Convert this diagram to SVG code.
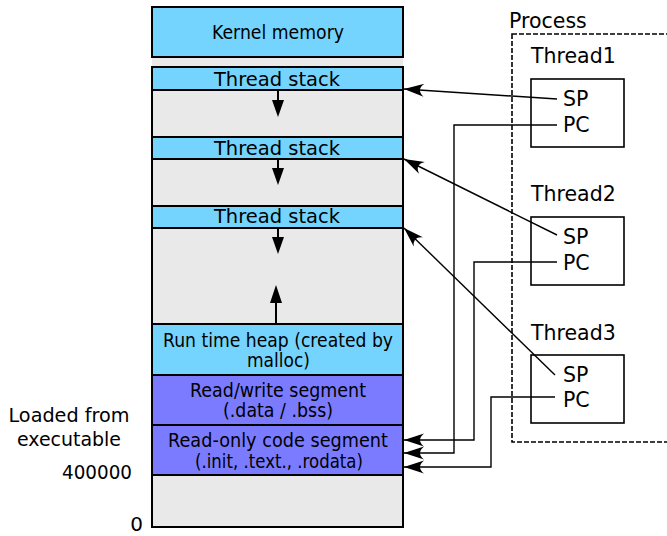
<svg xmlns="http://www.w3.org/2000/svg" width="667" height="536" viewBox="0 0 667 536">
<style>
text{font-family:"DejaVu Sans","Liberation Sans",sans-serif;fill:#000}
.m{font-size:19.5px;text-anchor:middle}
.k{font-size:20px;text-anchor:middle}
.r{font-size:20.5px}
.seg{stroke:#000;stroke-width:2}
.cy{fill:#75d4fe}
.pu{fill:#7b7bff}
.gr{fill:#e9e9e9}
.c{fill:none;stroke:#000;stroke-width:1.4}
.tb{fill:#fff;stroke:#000;stroke-width:1.6}
</style>
<defs>
<marker id="arr" markerUnits="userSpaceOnUse" viewBox="-22 -8 24 16" refX="0" refY="0" markerWidth="24" markerHeight="16" orient="auto">
<path d="M0,0 L-20,-6.5 Q-12,0 -20,6.5 Z" fill="#000"/>
</marker>
</defs>
<g id="memory">
<rect class="gr" x="152" y="57" width="251" height="10"/>
<rect class="gr seg" x="152" y="67" width="251" height="460"/>
</g>
<g id="kernel">
<rect class="cy seg" x="152" y="7" width="251" height="50"/>
<text class="k" x="278" y="39" textLength="132" lengthAdjust="spacingAndGlyphs">Kernel memory</text>
</g>
<g id="stack1">
<rect class="cy seg" x="152" y="67" width="251" height="23"/>
<text class="m" x="277" y="86">Thread stack</text>
<path d="M278,90 V101" stroke="#000" stroke-width="2"/>
<path d="M272,100 H284 L278,117 Z"/>
</g>
<g id="stack2">
<rect class="cy seg" x="152" y="137" width="251" height="22"/>
<text class="m" x="277" y="155">Thread stack</text>
<path d="M278,159 V169" stroke="#000" stroke-width="2"/>
<path d="M272,168 H284 L278,185 Z"/>
</g>
<g id="stack3">
<rect class="cy seg" x="152" y="206" width="251" height="22"/>
<text class="m" x="277" y="223">Thread stack</text>
<path d="M278,228 V238" stroke="#000" stroke-width="2"/>
<path d="M272,237 H284 L278,254 Z"/>
</g>
<g id="heap">
<path d="M276,324 V302" stroke="#000" stroke-width="2"/>
<path d="M270,303 H282 L276,285 Z"/>
<rect class="cy seg" x="152" y="324" width="251" height="51"/>
<text class="k" x="278" y="347" textLength="230" lengthAdjust="spacingAndGlyphs">Run time heap (created by</text>
<text class="k" x="278.5" y="367" textLength="63" lengthAdjust="spacingAndGlyphs">malloc)</text>
</g>
<g id="rw">
<rect class="pu seg" x="152" y="375" width="251" height="50"/>
<text class="k" x="278" y="397" textLength="176" lengthAdjust="spacingAndGlyphs">Read/write segment</text>
<text class="k" x="278" y="417" textLength="110" lengthAdjust="spacingAndGlyphs">(.data / .bss)</text>
</g>
<g id="ro">
<rect class="pu seg" x="152" y="425" width="251" height="50"/>
<text class="k" x="278" y="447" textLength="220" lengthAdjust="spacingAndGlyphs">Read-only code segment</text>
<text class="k" x="279" y="468" textLength="168" lengthAdjust="spacingAndGlyphs">(.init, .text., .rodata)</text>
</g>
<g id="labels">
<text class="k" x="69" y="422" textLength="121" lengthAdjust="spacingAndGlyphs">Loaded from</text>
<text class="k" x="69" y="446" textLength="104" lengthAdjust="spacingAndGlyphs">executable</text>
<text x="132" y="479" font-size="20" text-anchor="end" textLength="70" lengthAdjust="spacingAndGlyphs">400000</text>
<text x="143" y="531" font-size="20" text-anchor="end">0</text>
</g>
<g id="process">
<text class="r" x="509" y="28">Process</text>
<rect x="512" y="34" width="200" height="408" fill="none" stroke="#000" stroke-width="1.6" stroke-dasharray="5,2"/>
</g>
<g id="thread1">
<text class="r" x="531" y="63">Thread1</text>
<rect class="tb" x="531" y="79" width="93" height="68"/>
<text class="r" x="563" y="106">SP</text>
<text class="r" x="563" y="132">PC</text>
</g>
<g id="thread2">
<text class="r" x="531" y="201">Thread2</text>
<rect class="tb" x="531" y="217" width="93" height="68"/>
<text class="r" x="563" y="244">SP</text>
<text class="r" x="563" y="270">PC</text>
</g>
<g id="thread3">
<text class="r" x="531" y="340">Thread3</text>
<rect class="tb" x="531" y="355" width="93" height="68"/>
<text class="r" x="563" y="382">SP</text>
<text class="r" x="563" y="407">PC</text>
</g>
<g id="connectors">
<path class="c" d="M557,99 L404,89" marker-end="url(#arr)"/>
<path class="c" d="M557,125 H454 V453 H404" marker-end="url(#arr)"/>
<path class="c" d="M557,235 L404,159" marker-end="url(#arr)"/>
<path class="c" d="M557,262 H474 V440 H404" marker-end="url(#arr)"/>
<path class="c" d="M555,375 L404,228" marker-end="url(#arr)"/>
<path class="c" d="M555,397 H491 V467 H404" marker-end="url(#arr)"/>
</g>
</svg>
